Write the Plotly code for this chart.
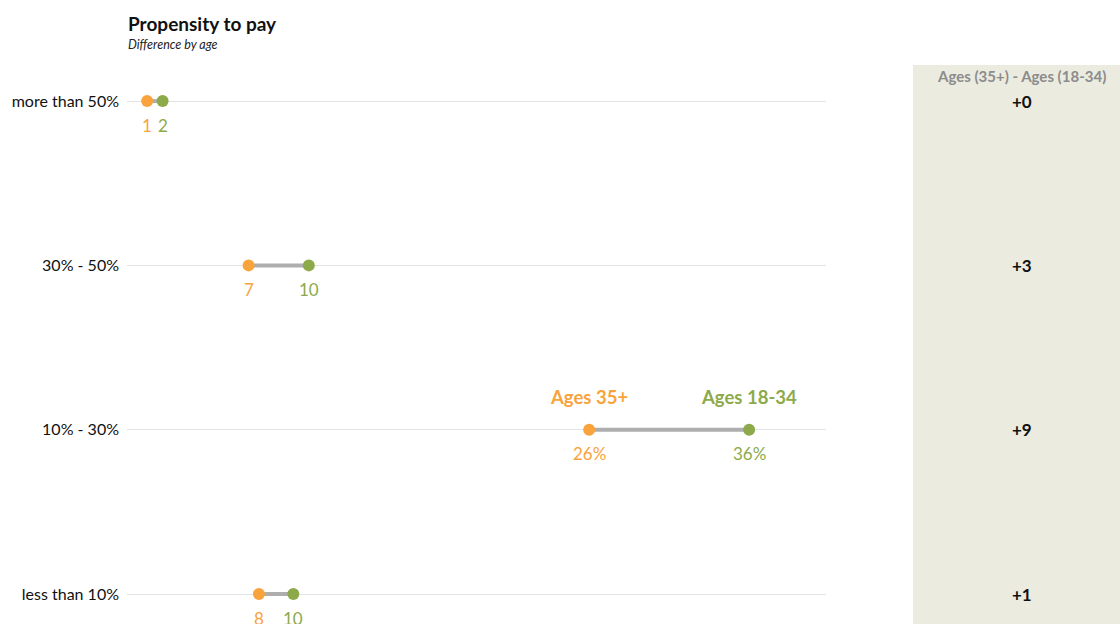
import plotly.graph_objects as go

categories = ["less than 10%", "10% - 30%", "30% - 50%", "more than 50%"]
ages_35_plus = [7.5, 26.7, 6.9, 1.0]
ages_18_34 = [9.5, 36.0, 10.4, 1.9]
labels_35_plus = ["8", "26%", "7", "1"]
labels_18_34 = ["10", "36%", "10", "2"]
differences = ["+1", "+9", "+3", "+0"]

ORANGE = "#F9A33C"
GREEN = "#8DAA4B"
FONT = "Lato"

ypos = list(range(len(categories)))

fig = go.Figure()

# connectors
for i, y in enumerate(ypos):
    fig.add_trace(go.Scatter(
        x=[ages_35_plus[i], ages_18_34[i]], y=[y, y], mode="lines",
        line=dict(color="#AEAEAE", width=4), hoverinfo="skip", showlegend=False))

fig.add_trace(go.Scatter(
    x=ages_35_plus, y=ypos, mode="markers", name="Ages 35+",
    marker=dict(color=ORANGE, size=12), showlegend=False))
fig.add_trace(go.Scatter(
    x=ages_18_34, y=ypos, mode="markers", name="Ages 18-34",
    marker=dict(color=GREEN, size=12), showlegend=False))

for i, y in enumerate(ypos):
    fig.add_annotation(x=ages_35_plus[i], y=y, text=labels_35_plus[i], showarrow=False,
                       xanchor="center", yshift=-24, font=dict(color=ORANGE, size=17, family=FONT))
    fig.add_annotation(x=ages_18_34[i], y=y, text=labels_18_34[i], showarrow=False,
                       xanchor="center", yshift=-24, font=dict(color=GREEN, size=17, family=FONT))

# series labels above the 10% - 30% row
idx = categories.index("10% - 30%")
fig.add_annotation(x=ages_35_plus[idx], y=idx, text="<b>Ages 35+</b>", showarrow=False,
                   xanchor="center", yshift=33, font=dict(color=ORANGE, size=18.5, family=FONT))
fig.add_annotation(x=ages_18_34[idx], y=idx, text="<b>Ages 18-34</b>", showarrow=False,
                   xanchor="center", yshift=33, font=dict(color=GREEN, size=18.5, family=FONT))

# side panel
fig.add_shape(type="rect", xref="paper", yref="paper", x0=1.1245, x1=1.43, y0=-0.05, y1=0.991,
              fillcolor="#EBEBE0", line=dict(width=0), layer="below")
fig.add_annotation(xref="paper", yref="paper", x=1.280, y=0.9716, xanchor="center", yanchor="middle",
                   text="<b>Ages (35+) - Ages (18-34)</b>",
                   showarrow=False, font=dict(color="#8C8C8C", size=15, family=FONT))
for i, y in enumerate(ypos):
    fig.add_annotation(xref="paper", yref="y", x=1.280, y=y, xanchor="center", yanchor="middle",
                       text="<b>" + differences[i] + "</b>",
                       showarrow=False, font=dict(color="#111111", size=17, family=FONT))

# title
fig.add_annotation(xref="paper", yref="paper", x=-0.002, y=1.065, xanchor="left", yanchor="middle",
                   text="<b>Propensity to pay</b>", showarrow=False,
                   font=dict(color="#111111", size=19, family=FONT))
fig.add_annotation(xref="paper", yref="paper", x=-0.002, y=1.028, xanchor="left", yanchor="middle",
                   text="<i>Difference by age</i>", showarrow=False,
                   font=dict(color="#222222", size=12.5, family=FONT))

fig.update_layout(
    width=1120, height=624,
    margin=dict(l=127, r=294, t=60, b=0),
    plot_bgcolor="white", paper_bgcolor="white",
    font=dict(family=FONT),
    xaxis=dict(range=[-0.17, 40.47], showgrid=False, zeroline=False, showticklabels=False,
               ticks="", showline=False),
    yaxis=dict(range=[-0.1826, 3.25], tickvals=ypos, ticktext=categories, showgrid=True,
               gridcolor="#E3E3E3", gridwidth=1, zeroline=False, ticks="", showline=False,
               tickfont=dict(size=16, color="#111111", family=FONT), ticklabelstandoff=7),
)

fig.write_html("out.html")
